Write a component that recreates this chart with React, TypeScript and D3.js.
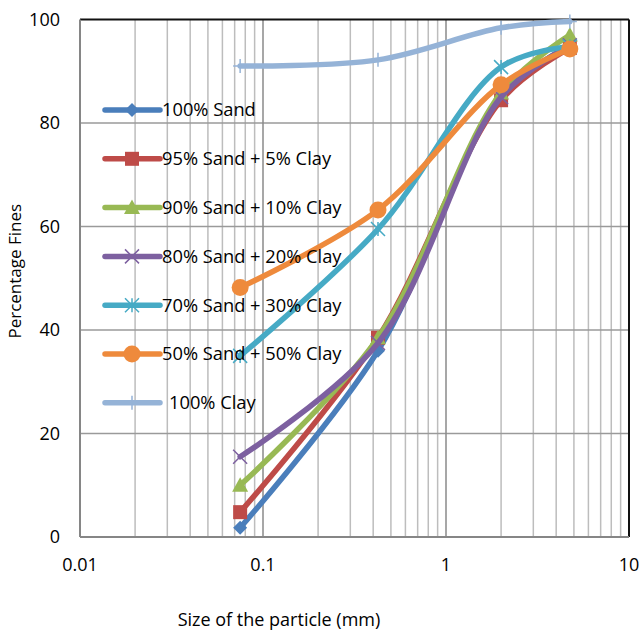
import * as d3 from "d3"

const sizes = [0.075, 0.425, 2, 4.75]

const seriesNames = [
  "100% Sand",
  "95% Sand + 5% Clay",
  "90% Sand + 10% Clay",
  "80% Sand + 20% Clay",
  "70% Sand + 30% Clay",
  "50% Sand + 50% Clay",
  "100% Clay",
]

const sand100 = [1.8, 36, 85, 95]
const sand95 = [4.8, 38.5, 84.4, 94.5]
const sand90 = [10, 38.5, 85.8, 97]
const sand80 = [15.5, 37.5, 85, 95]
const sand70 = [35, 59.5, 90.8, 94.8]
const sand50 = [48.2, 63.2, 87.4, 94.3]
const clay100 = [91, 92.2, 98.4, 99.6]

const seriesValues = [sand100, sand95, sand90, sand80, sand70, sand50, clay100]

const colors = ["#4A7EBB", "#BE4B48", "#98B954", "#7D60A0", "#46AAC5", "#EE8A3C", "#95B3D7"]
const markers = ["diamond", "square", "triangle", "x", "star", "circle", "plus"]

const yTicks = [0, 20, 40, 60, 80, 100]
const xTicks = [0.01, 0.1, 1, 10]

const W = 639
const H = 633
const m = { left: 80, right: 10, top: 19.5, bottom: 96 }
const FONT = "'Open Sans', sans-serif"

function Marker({ type, x, y, color }: { type: string; x: number; y: number; color: string }) {
  if (type === "diamond") {
    const s = 7
    return <path d={`M${x},${y - s}L${x + s},${y}L${x},${y + s}L${x - s},${y}Z`} fill={color} />
  }
  if (type === "square") {
    const s = 7
    return <rect x={x - s} y={y - s} width={2 * s} height={2 * s} fill={color} />
  }
  if (type === "triangle") {
    const s = 8
    return <path d={`M${x},${y - s}L${x + s},${y + s * 0.8}L${x - s},${y + s * 0.8}Z`} fill={color} />
  }
  if (type === "x") {
    const s = 7
    return <path d={`M${x - s},${y - s}L${x + s},${y + s}M${x - s},${y + s}L${x + s},${y - s}`} stroke={color} strokeWidth={1.5} fill="none" />
  }
  if (type === "star") {
    const s = 7
    return (
      <path
        d={`M${x - s},${y - s}L${x + s},${y + s}M${x - s},${y + s}L${x + s},${y - s}M${x},${y - s}L${x},${y + s}`}
        stroke={color}
        strokeWidth={1.5}
        fill="none"
      />
    )
  }
  if (type === "circle") {
    return <circle cx={x} cy={y} r={8.5} fill={color} />
  }
  // plus
  const s = 7
  return <path d={`M${x - s},${y}L${x + s},${y}M${x},${y - s}L${x},${y + s}`} stroke={color} strokeWidth={1.5} fill="none" />
}

export default function App() {
  const innerW = W - m.left - m.right
  const innerH = H - m.top - m.bottom

  const x = d3.scaleLog().domain([0.01, 10]).range([0, innerW])
  const y = d3.scaleLinear().domain([0, 100]).range([innerH, 0])

  // minor grid: 2..9 of each decade
  const minor: number[] = []
  for (let d = 0.01; d < 10; d *= 10) {
    for (let k = 2; k <= 9; k++) minor.push(+(d * k).toPrecision(3))
  }

  const line = d3
    .line<number>()
    .x((_, i) => x(sizes[i]))
    .y(v => y(v))
    .curve(d3.curveCatmullRom.alpha(0.5))

  return (
    <svg width={W} height={H} style={{ position: "absolute", left: 0, top: 0, background: "#fff" }}>
      <g transform={`translate(${m.left},${m.top})`} fontFamily={FONT}>
        {minor.map(v => (
          <line key={"mn" + v} x1={x(v)} x2={x(v)} y1={0} y2={innerH} stroke="#bdbdbd" strokeWidth={1.5} />
        ))}
        {yTicks.slice(1, -1).map(v => (
          <line key={"hy" + v} x1={0} x2={innerW} y1={y(v)} y2={y(v)} stroke="#9a9a9a" strokeWidth={1.5} />
        ))}
        {xTicks.slice(1, -1).map(v => (
          <line key={"mx" + v} x1={x(v)} x2={x(v)} y1={0} y2={innerH} stroke="#8a8a8a" strokeWidth={1.5} />
        ))}
        {/* frame */}
        <line x1={0} x2={innerW} y1={0} y2={0} stroke="#111" strokeWidth={2} />
        <line x1={innerW} x2={innerW} y1={0} y2={innerH} stroke="#111" strokeWidth={2} />
        <line x1={0} x2={0} y1={0} y2={innerH} stroke="#868686" strokeWidth={2} />
        <line x1={0} x2={innerW} y1={innerH} y2={innerH} stroke="#868686" strokeWidth={2} />

        {yTicks.map(v => (
          <text key={"yt" + v} x={-20} y={y(v)} dy="0.35em" textAnchor="end" fontSize={18} fill="#000">
            {v}
          </text>
        ))}
        {xTicks.map(v => (
          <text key={"xt" + v} x={x(v)} y={innerH + 34} textAnchor="middle" fontSize={18} fill="#000">
            {v}
          </text>
        ))}

        {seriesValues.map((vals, si) => (
          <g key={"s" + si}>
            <path d={line(vals) ?? ""} fill="none" stroke={colors[si]} strokeWidth={5.5} strokeLinecap="round" />
            {vals.map((v, i) => (
              <Marker key={i} type={markers[si]} x={x(sizes[i])} y={y(v)} color={colors[si]} />
            ))}
          </g>
        ))}

        {seriesNames.map((name, si) => {
          const ly = 90.5 + si * 48.8
          return (
            <g key={"lg" + si}>
              <line x1={25} x2={80} y1={ly} y2={ly} stroke={colors[si]} strokeWidth={5.5} strokeLinecap="round" />
              <Marker type={markers[si]} x={52} y={ly} color={colors[si]} />
              <text x={si === 6 ? 89 : 82} y={ly} dy="0.35em" fontSize={18.3} fill="#000">
                {name}
              </text>
            </g>
          )
        })}
      </g>
      <text
        transform={`translate(21,${m.top + innerH / 2 - 7}) rotate(-90)`}
        textAnchor="middle"
        fontSize={17}
        fontFamily={FONT}
        fill="#000"
      >
        Percentage Fines
      </text>
      <text x={279} y={626} textAnchor="middle" fontSize={18} fontFamily={FONT} fill="#000">
        Size of the particle (mm)
      </text>
    </svg>
  )
}
